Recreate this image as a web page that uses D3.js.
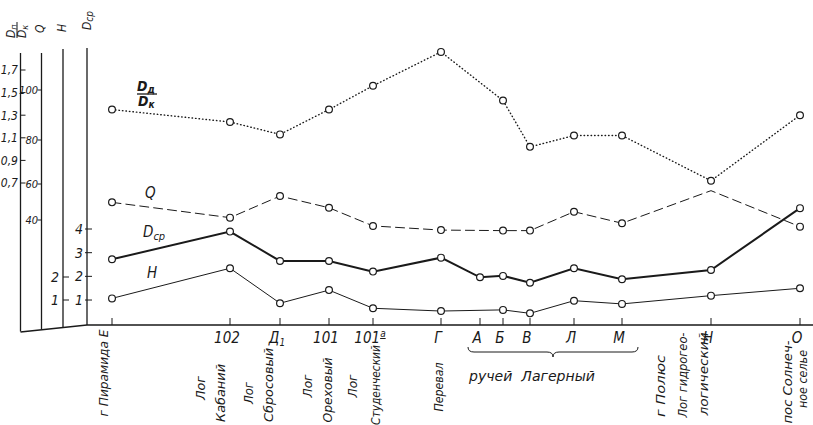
<!DOCTYPE html>
<html lang="ru">
<head>
<meta charset="UTF-8">
<title>Профиль</title>
<script src="https://d3js.org/d3.v7.min.js"></script>
<style type="text/css">
    body { margin: 0; background: #fff; }
    svg text { font-family: "DejaVu Sans Condensed", "Liberation Sans Narrow", sans-serif; font-stretch: condensed; font-style: italic; fill: #1a1a1a; }
</style>
</head>
<body>
<div id="svgDiv"></div>
<script type="text/javascript">

    // stations along the profile (relative distance)
    var stationDist = [0, 118, 168, 217, 261, 329, 368, 391, 418, 462, 510, 599, 688];
    var tickLabels  = ["", "102", "Д_1", "101", "101^а", "Г", "А", "Б", "В", "Л", "М", "Н", "О"];

    // series, null = no measurement at that station
    var ratio = [1.35, 1.24, 1.13, 1.35, 1.56, 1.86, null, 1.43, 1.02, 1.12, 1.12, 0.72, 1.30];
    var qVals = [49.8, 41.3, 53.3, 46.8, 36.7, 34.4, null, 34.1, 34.1, 44.6, 38.2, 56.3, 36.3];
    var dcp   = [2.72, 3.89, 2.65, 2.65, 2.20, 2.79, 1.96, 2.02, 1.73, 2.34, 1.88, 2.27, 4.88];
    var hVals = [1.07, 2.38, 0.86, 1.43, 0.64, 0.52, null, 0.57, 0.42, 0.97, 0.83, 1.19, 1.51];

    // axis tick values
    var ratioTicks = [0.7, 0.9, 1.1, 1.3, 1.5, 1.7];
    var qTicks = [40, 60, 80, 100];
    var hTicks = [1, 2];
    var dTicks = [1, 2, 3, 4];

    // rotated station names: station index, lines
    var stationNames = [
        [0, ["г Пирамида Е"]],
        [1, ["Лог", "Кабаний"]],
        [2, ["Лог", "Сбросовый"]],
        [3, ["Лог", "Ореховый"]],
        [4, ["Лог", "Студенческий"]],
        [5, ["Перевал"]],
        [11, ["г Полюс", "Лог гидрогео-", "логический"]],
        [12, ["пос Солнеч-", "ное селье"]]
    ];

    var W = 813, H = 425, ink = "#1a1a1a";
    var svg = d3.select("#svgDiv").append("svg").attr("width", W).attr("height", H);

    var x = d3.scaleLinear().domain([0, 688]).range([112, 800]);
    var yRatio = d3.scaleLinear().domain([0.7, 1.7]).range([183, 70]);
    var yQ = d3.scaleLinear().domain([40, 60, 80, 100]).range([220, 184, 140, 90]);
    var yH = d3.scaleLinear().domain([0, 2]).range([323, 277]);
    var yD = d3.scaleLinear().domain([0, 4]).range([323.7, 229]);

    var baseY = 325;
    var ax = [20.5, 41.5, 63, 87];

    // baseline with the slanted left part
    svg.append("path")
        .attr("d", "M" + ax[0] + ",332 L" + ax[3] + "," + baseY + " L" + W + "," + baseY)
        .attr("fill", "none").attr("stroke", ink).attr("stroke-width", 1.6);

    // four vertical axes
    var axTop = [53, 53, 49, 48], axBot = [331.5, 329.3, 327.2, 325];
    ax.forEach(function(a, i){
        svg.append("line").attr("x1", a).attr("x2", a).attr("y1", axTop[i]).attr("y2", axBot[i])
            .attr("stroke", ink).attr("stroke-width", 1.3);
    });

    function tickGroup(vals, scale, x1, x2, lx, size, fmt){
        vals.forEach(function(v){
            svg.append("line").attr("x1", x1).attr("x2", x2)
                .attr("y1", scale(v)).attr("y2", scale(v))
                .attr("stroke", ink).attr("stroke-width", 1);
            svg.append("text").attr("x", lx).attr("y", scale(v) + size * 0.36)
                .attr("text-anchor", "end").style("font-size", size + "px")
                .text(fmt ? fmt(v) : v);
        });
    }
    tickGroup(ratioTicks, yRatio, ax[0], ax[0] + 5, 18, 12, function(v){ return d3.format(".1f")(v).replace(".", ","); });
    tickGroup(qTicks, yQ, ax[1] - 4, ax[1], 38, 11);
    tickGroup(hTicks, yH, ax[2], ax[2] + 6, 59, 14);
    tickGroup(dTicks, yD, ax[3] - 2, ax[3] + 5, 83, 14);

    // rotated axis titles at the top
    function rot(x0, y0){ return svg.append("g").attr("transform", "translate(" + x0 + "," + y0 + ") rotate(-90)"); }
    var fr = rot(17, 38);
    fr.append("text").attr("x", 0).attr("y", -2).style("font-size", "12px")
        .html('D<tspan font-size="9" dy="2">п</tspan>');
    fr.append("line").attr("x1", 0).attr("x2", 16).attr("y1", 0).attr("y2", 0).attr("stroke", ink);
    fr.append("text").attr("x", 0).attr("y", 9).style("font-size", "12px")
        .html('D<tspan font-size="9" dy="2">к</tspan>');
    rot(44, 33).append("text").style("font-size", "12px").text("Q");
    rot(66, 32).append("text").style("font-size", "12px").text("H");
    rot(91, 30).append("text").style("font-size", "12px")
        .html('D<tspan font-size="10" dy="2">ср</tspan>');

    // station ticks and labels on the baseline
    stationDist.forEach(function(d, i){
        svg.append("line").attr("x1", x(d)).attr("x2", x(d)).attr("y1", baseY - 7).attr("y2", baseY)
            .attr("stroke", ink).attr("stroke-width", 1);
        var lab = tickLabels[i];
        if(!lab) return;
        var t = svg.append("text").attr("x", x(d) - 3).attr("y", 343)
            .attr("text-anchor", "middle").style("font-size", "15px");
        if(lab.indexOf("_") > 0){
            var p = lab.split("_");
            t.html(p[0] + '<tspan font-size="10" dy="3">' + p[1] + '</tspan>');
        } else if(lab.indexOf("^") > 0){
            var q = lab.split("^");
            t.html(q[0] + '<tspan font-size="10" dy="-6" text-decoration="underline">' + q[1] + '</tspan>');
        } else {
            t.text(lab);
        }
    });

    // rotated station names below: [dx from station, centre y, length]
    var nameLayout = {
        0: [[-4, 373, 87]],
        1: [[-25, 388, 24], [-5, 393, 58]],
        2: [[-27, 393, 22], [-7, 385, 74]],
        3: [[-17, 386, 23], [3, 390, 65]],
        4: [[-16, 386, 23], [7, 385, 80]],
        5: [[2, 387, 49]],
        11: [[-46, 386, 62], [-24, 375, 85], [-3, 374, 83]],
        12: [[-8, 382, 83], [7, 379, 58]]
    };
    stationNames.forEach(function(s){
        var idx = s[0];
        s[1].forEach(function(line, j){
            var pos = nameLayout[idx][j];
            rot(x(stationDist[idx]) + pos[0], pos[1]).append("text")
                .attr("text-anchor", "middle")
                .attr("textLength", pos[2]).attr("lengthAdjust", "spacingAndGlyphs")
                .style("font-size", "13px").text(line);
        });
    });

    // brace and the creek name
    var bx0 = x(stationDist[6]) - 12, bx1 = x(stationDist[10]) + 16, bm = (bx0 + bx1) / 2;
    svg.append("path")
        .attr("d", "M" + bx0 + ",347 Q" + bx0 + ",352 " + (bx0 + 6) + ",352 L" + (bm - 6) + ",352 Q" + bm + ",352 " + bm + ",357 Q" + bm + ",352 " + (bm + 6) + ",352 L" + (bx1 - 6) + ",352 Q" + bx1 + ",352 " + bx1 + ",347")
        .attr("fill", "none").attr("stroke", ink).attr("stroke-width", 1);
    svg.append("text").attr("x", 469).attr("y", 381).style("font-size", "14px")
        .attr("textLength", 126).attr("lengthAdjust", "spacingAndGlyphs")
        .attr("xml:space", "preserve").text("ручей  Лагерный");

    // series lines
    function drawSeries(vals, scale, dash, width, marks){
        var pts = vals.map(function(v, i){ return [stationDist[i], v]; })
            .filter(function(p){ return p[1] != null; });
        var line = d3.line()
            .x(function(p){ return x(p[0]); })
            .y(function(p){ return scale(p[1]); });
        svg.append("path").datum(pts).attr("d", line)
            .attr("fill", "none").attr("stroke", ink).attr("stroke-width", width)
            .attr("stroke-dasharray", dash).attr("stroke-linecap", dash ? "round" : "butt");
        svg.selectAll(null).data(pts.filter(function(p, i){ return marks(i); })).enter()
            .append("circle")
            .attr("cx", function(p){ return x(p[0]); })
            .attr("cy", function(p){ return scale(p[1]); })
            .attr("r", 3.4).attr("fill", "#fff").attr("stroke", ink).attr("stroke-width", 1.2);
    }
    drawSeries(ratio, yRatio, "0.5,3", 1.4, function(){ return true; });
    drawSeries(qVals, yQ, "9,5", 1, function(i){ return i !== 10; });
    drawSeries(dcp, yD, null, 2, function(){ return true; });
    drawSeries(hVals, yH, null, 1, function(){ return true; });

    // series labels
    svg.append("text").attr("x", 137).attr("y", 91).style("font-size", "14px").style("font-weight", "bold")
        .html('D<tspan font-size="10" dy="2">д</tspan>');
    svg.append("line").attr("x1", 137).attr("x2", 157).attr("y1", 94).attr("y2", 94)
        .attr("stroke", ink).attr("stroke-width", 1.3);
    svg.append("text").attr("x", 138).attr("y", 106).style("font-size", "14px").style("font-weight", "bold")
        .html('D<tspan font-size="10" dy="2">к</tspan>');
    svg.append("text").attr("x", 145).attr("y", 198).style("font-size", "15px").text("Q");
    svg.append("text").attr("x", 143).attr("y", 237).style("font-size", "15px")
        .html('D<tspan font-size="11" dy="3">ср</tspan>');
    svg.append("text").attr("x", 147).attr("y", 278).style("font-size", "15px").text("H");

</script>
</body>
</html>
